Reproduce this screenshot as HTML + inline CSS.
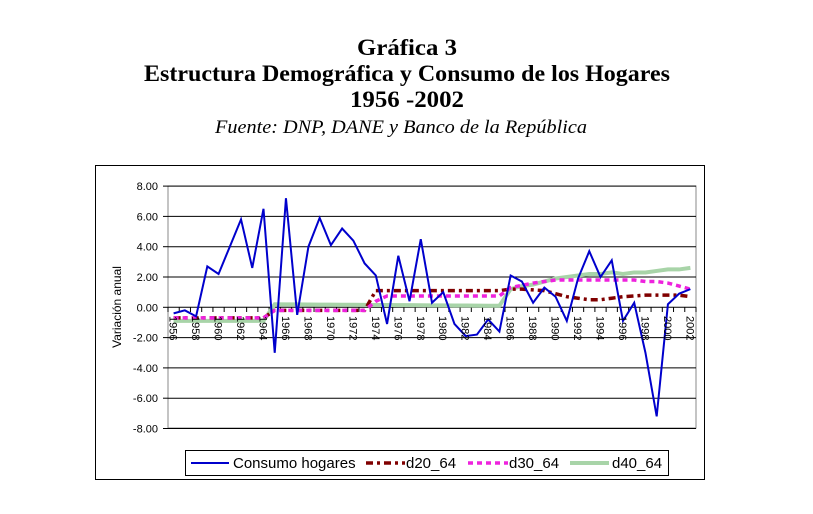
<!DOCTYPE html>
<html><head><meta charset="utf-8"><style>
body{margin:0;background:#fff;width:813px;height:514px;overflow:hidden}
svg{display:block}
</style></head><body>
<svg id="s" width="813" height="514" xmlns="http://www.w3.org/2000/svg" font-family="Liberation Sans, sans-serif">
<g font-family="Liberation Serif, serif" text-anchor="middle" fill="#000">
<text x="407" y="55" font-size="23" font-weight="bold" textLength="100" lengthAdjust="spacingAndGlyphs">Gráfica 3</text>
<text x="407" y="81" font-size="23" font-weight="bold" textLength="526" lengthAdjust="spacingAndGlyphs">Estructura Demográfica y Consumo de los Hogares</text>
<text x="407" y="107" font-size="23" font-weight="bold" textLength="114" lengthAdjust="spacingAndGlyphs">1956 -2002</text>
<text x="401" y="133" font-size="19" font-style="italic" textLength="372" lengthAdjust="spacingAndGlyphs">Fuente: DNP, DANE  y Banco de la República</text>
</g>
<rect x="95.5" y="165.5" width="609" height="314" fill="none" stroke="#000" stroke-width="1"/>
<rect x="168" y="186" width="528" height="242" fill="none" stroke="#888" stroke-width="1"/>
<g id="g"></g>
<text transform="translate(121,307) rotate(-90)" font-size="12" text-anchor="middle">Variación anual</text>
<rect x="185.5" y="450.5" width="483" height="25" fill="#fff" stroke="#000"/>
<line x1="191" y1="463" x2="229" y2="463" stroke="#0000cc" stroke-width="2"/>
<text x="233" y="468" font-size="15">Consumo hogares</text>
<line x1="366" y1="463" x2="405" y2="463" stroke="#800000" stroke-width="3.5" stroke-dasharray="7,4,3,4"/>
<text x="406" y="468" font-size="15">d20_64</text>
<line x1="468" y1="463" x2="508" y2="463" stroke="#ee22dd" stroke-width="3.5" stroke-dasharray="5,4"/>
<text x="509" y="468" font-size="15">d30_64</text>
<line x1="570" y1="463" x2="609" y2="463" stroke="#a8d4a8" stroke-width="4"/>
<text x="612" y="468" font-size="15">d40_64</text>
</svg>
<script>
const g=document.getElementById('g');let h='';
const Y=v=>307.3-v*15.15, w=528/47, X=i=>168+(i+0.5)*w;
for(let v=8;v>=-8;v-=2){const y=Y(v);h+=`<line x1="168" x2="696" y1="${y}" y2="${y}" stroke="#000" stroke-width="1"/>`;
h+=`<text x="158" y="${y+4}" font-size="11" text-anchor="end">${v.toFixed(2)}</text>`;h+=`<line x1="163" x2="168" y1="${y}" y2="${y}" stroke="#000"/>`;}
for(let i=0;i<=47;i++){const x=168+i*w;h+=`<line x1="${x}" x2="${x}" y1="307" y2="312" stroke="#000"/>`;}
const cons=[-0.4,-0.2,-0.6,2.7,2.2,4.0,5.8,2.6,6.5,-3.0,7.2,-0.5,4.0,5.9,4.1,5.2,4.4,2.9,2.1,-1.1,3.4,0.4,4.5,0.3,1.0,-1.1,-1.9,-1.8,-0.8,-1.6,2.1,1.7,0.3,1.3,0.7,-0.9,1.9,3.7,2.0,3.1,-0.9,0.3,-3.0,-7.2,0.2,0.9,1.2];
const d20=[],d30=[],d40=[];
for(let i=0;i<47;i++){const yr=1956+i;
d20.push(yr<1965?-0.7:yr<1974?-0.2:yr<1986?1.1:[1.2,1.2,1.15,1.1,0.9,0.7,0.6,0.5,0.5,0.6,0.7,0.75,0.8,0.8,0.8,0.8,0.7][yr-1986]);
d30.push(yr<1965?-0.7:yr<1974?-0.2:yr==1974?0.4:yr<1986?0.75:[1.3,1.45,1.6,1.7,1.8,1.8,1.8,1.8,1.8,1.8,1.8,1.8,1.7,1.7,1.6,1.4,1.2][yr-1986]);
d40.push(yr<1965?-0.9:yr<1986?0.2-(yr-1965)*0.005:[1.2,1.4,1.5,1.7,1.9,2.0,2.1,2.2,2.2,2.3,2.2,2.3,2.3,2.4,2.5,2.5,2.6][yr-1986]);}
const pl=(a,st)=>`<polyline fill="none" points="${a.map((v,i)=>X(i)+','+Y(v)).join(' ')}" ${st}/>`;
h+=pl(d40,'stroke="#a8d4a8" stroke-width="4"');
h+=pl(d20,'stroke="#800000" stroke-width="3.5" stroke-dasharray="7,4,3,4"');
h+=pl(d30,'stroke="#ee22dd" stroke-width="3.5" stroke-dasharray="5,4"');
h+=pl(cons,'stroke="#0000cc" stroke-width="2"');
for(let i=0;i<47;i+=2){h+=`<text transform="translate(${X(i)-4},316) rotate(90)" font-size="11">${1956+i}</text>`;}
g.innerHTML=h;
</script>
</body></html>
